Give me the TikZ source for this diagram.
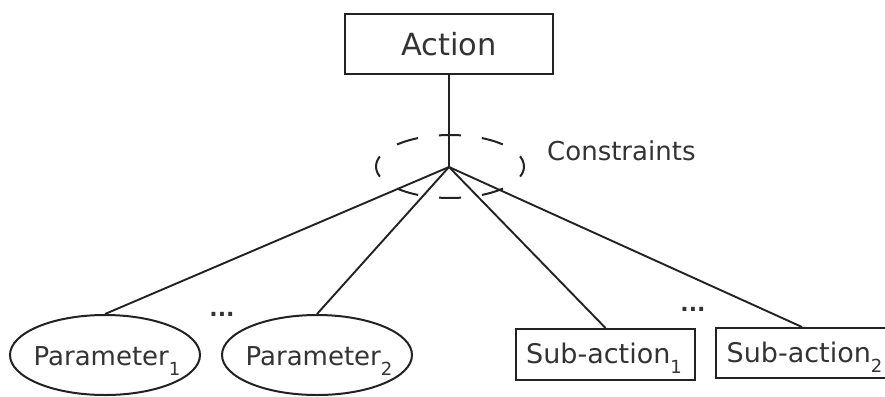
\documentclass[tikz,border=0pt]{standalone}
\usepackage{fontspec}
\setmainfont{DejaVu Sans}
\usetikzlibrary{shapes.geometric}
\definecolor{ink}{HTML}{222222}
\definecolor{txt}{HTML}{333333}
% lowered index after a label word
\newcommand\subidx[1]{\smash{\raisebox{-10pt}{\fontsize{18}{18}\selectfont #1}}}
\tikzset{
  every node/.style={text=txt},
  wire/.style={draw=ink, line width=1.9pt},
  boxnode/.style={draw=ink, line width=2pt, rectangle, inner sep=0pt},
  ovalnode/.style={draw=ink, line width=2pt, ellipse, inner sep=0pt,
                   minimum width=190pt, minimum height=80pt},
  lbl/.style={font=\fontsize{26}{30}\selectfont, inner sep=0pt},
  sublbl/.style={font=\fontsize{27}{30}\selectfont, inner sep=0pt},
  dotlbl/.style={font=\fontsize{22}{26}\selectfont\bfseries, inner sep=0pt},
  ringdash/.style={draw=ink, line width=2pt,
                   dash pattern=on 22pt off 21.1pt, dash phase=11pt},
}
\begin{document}
\begin{tikzpicture}[x=1pt, y=-1pt]
  \useasboundingbox (0,0) rectangle (885,396);

  % root action
  \node[boxnode, minimum width=208pt, minimum height=60pt,
        font=\fontsize{30.5}{34}\selectfont] (act) at (449,44) {Action};

  % constraint hub with its dashed ring
  \coordinate (hub) at (449,167);
  \path[ringdash] (450,166.5) ellipse [x radius=74, y radius=31.5];
  \node[lbl, anchor=base west] (con) at (547,160) {Constraints};

  % parameters
  \node[ovalnode] (p1) at (105,355) {};
  \node[lbl] (p1t) at (107,356) {Parameter\subidx{1}};
  \node[ovalnode] (p2) at (317,355) {};
  \node[lbl] (p2t) at (319,356) {Parameter\subidx{2}};
  \node[dotlbl, anchor=base] (pdots) at (222,316) {...};

  % sub-actions
  \node[boxnode, minimum width=179pt, minimum height=51pt] (s1) at (605.5,354.5) {};
  \node[sublbl] (s1t) at (604,353) {Sub-action\subidx{1}};
  \node[boxnode, minimum width=172pt, minimum height=50pt] (s2) at (802,353) {};
  \node[sublbl] (s2t) at (804.5,352) {Sub-action\subidx{2}};
  \node[dotlbl, anchor=base] (sdots) at (693,311) {...};

  % connectors
  \draw[wire] (act.south) -- (hub);
  \draw[wire] (hub) -- (p1.north);
  \draw[wire] (hub) -- (p2.north);
  \draw[wire] (hub) -- (s1.north);
  \draw[wire] (hub) -- (s2.north);
\end{tikzpicture}
\end{document}
